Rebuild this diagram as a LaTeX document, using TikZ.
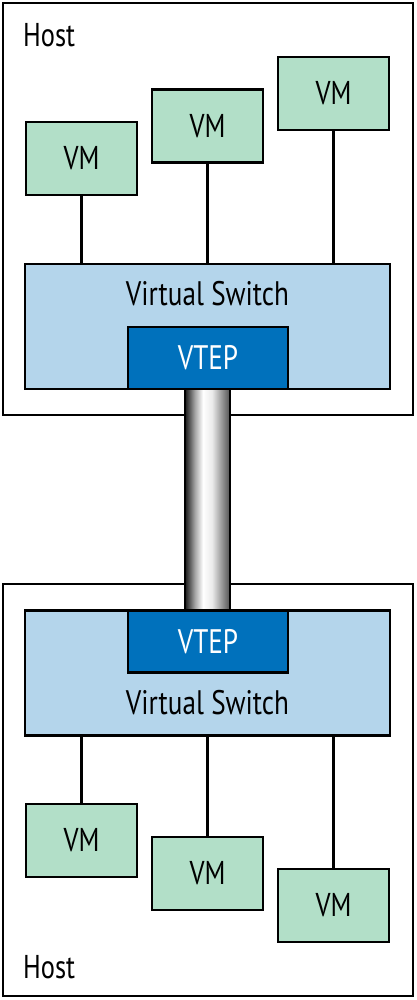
\documentclass[tikz,border=0pt]{standalone}
\usepackage{fontspec}
\setmainfont{PT Sans}[FakeStretch=0.8]
\usetikzlibrary{positioning}

\definecolor{vmgreen}{HTML}{B2DFC8}
\definecolor{swblue}{HTML}{B4D5EB}
\definecolor{vtepblue}{HTML}{0071BC}

% grey tube, dark on the left, white near the middle
\pgfdeclarehorizontalshading{tubeshade}{100bp}{color(0bp)=(black!90); color(25bp)=(black!90); color(36bp)=(black!35); color(45bp)=(white); color(55bp)=(white!92!black); color(75bp)=(black!68); color(100bp)=(black!68)}

\tikzset{
  host/.style={draw, line width=2.2pt, fill=white, minimum width=410pt, minimum height=412pt, inner sep=0pt},
  vm/.style={draw, line width=2.2pt, fill=vmgreen, minimum width=111pt, minimum height=73pt, inner sep=0pt, font=\fontsize{33}{36}\selectfont},
  vswitch/.style={draw, line width=2.2pt, fill=swblue, minimum width=365pt, minimum height=125pt, inner sep=0pt},
  vtep/.style={draw, line width=2.2pt, fill=vtepblue, text=white, minimum width=160pt, minimum height=62pt, inner sep=0pt, font=\fontsize{34}{36}\selectfont},
  swlabel/.style={inner sep=0pt, font=\fontsize{34}{36}\selectfont},
  hostlabel/.style={inner sep=0pt, anchor=base west, font=\fontsize{33}{36}\selectfont},
  tunnel/.style={draw, line width=2.2pt, minimum width=45pt, minimum height=221pt, inner sep=0pt, shading=tubeshade},
  wire/.style={line width=2.2pt}
}

\begin{document}
\begin{tikzpicture}[x=1pt, y=-1pt]
      \useasboundingbox (0,0) rectangle (416,1000);

      % hosts
      \node[host] (hosttop) at (208,209) {};
      \node[host] (hostbottom) at (208,790) {};
      \node[hostlabel] (hosttoplabel) at (23,47) {Host};
      \node[hostlabel] (hostbottomlabel) at (23,978) {Host};

      % tunnel between the two VTEPs
      \node[tunnel] (tun) at (207.5,499.5) {};

      %top host
      \node[vswitch] (swtop) at (207.5,326.5) {};
      \node[swlabel] (swtoplabel) at (207.5,294) {Virtual Switch};
      \node[vtep] (veptop) at (208,358) {VTEP};

      \node[vm] (vmtopa) at (81.5,158.5) {VM};
      \node[vm] (vmtopb) at (207.5,126) {VM};
      \node[vm] (vmtopc) at (333.5,93.5) {VM};

      %bottom host
      \node[vswitch] (swbottom) at (207.5,673) {};
      \node[swlabel] (swbottomlabel) at (207.5,703) {Virtual Switch};
      \node[vtep] (vepbottom) at (208,641.5) {VTEP};

      \node[vm] (vmbottoma) at (81.5,840.5) {VM};
      \node[vm] (vmbottomb) at (207.5,873.5) {VM};
      \node[vm] (vmbottomc) at (333.5,905.5) {VM};

      % edges
      \foreach \v in {vmtopa, vmtopb, vmtopc}
        \draw[wire] (\v.south) -- (\v.south |- swtop.north);
      \foreach \v in {vmbottoma, vmbottomb, vmbottomc}
        \draw[wire] (\v.north) -- (\v.north |- swbottom.south);

\end{tikzpicture}
\end{document}
